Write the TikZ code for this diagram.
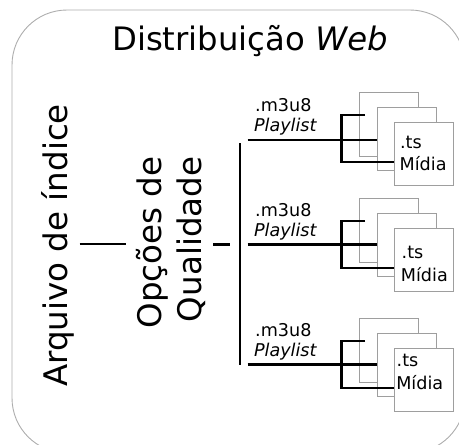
\documentclass[tikz,border=0pt]{standalone}
\usepackage{fontspec}
\setmainfont{DejaVu Sans}
\begin{document}
\begin{tikzpicture}[x=1pt,y={(0pt,-1pt)},
  frame/.style={draw=black!32,line width=0.9pt},
  conn/.style={draw=black,line width=2.3pt},
  mbox/.style={draw=black!38,fill=white,line width=1pt,minimum width=58.5pt,minimum height=63.5pt,inner sep=0pt,anchor=north west},
  bigtxt/.style={font=\fontsize{32.5}{39}\selectfont,inner sep=0pt},
  titletxt/.style={font=\fontsize{32.3}{39}\selectfont,inner sep=0pt},
  smalltxt/.style={font=\fontsize{17.6}{21}\selectfont,inner sep=0pt,anchor=base west}]
\useasboundingbox (0,0) rectangle (459,445);
\begin{scope}
\clip (0,0) rectangle (459,445);
\draw[frame,rounded corners=55pt] (12,10) rectangle (465,453);
\end{scope}
% title
\node[titletxt,anchor=base] (tit) at (250,50) {Distribuição \textit{Web}};
% rotated labels
\node[bigtxt,rotate=90,anchor=base] (arq) at (67,245.5) {Arquivo de índice};
\node[bigtxt,rotate=90,anchor=base east] (opc) at (161.5,156.5) {Opções de};
\node[bigtxt,rotate=90,anchor=base east] (qual) at (201,156.5) {Qualidade};
% connectors on the left
\coordinate (a1) at (79.5,244);
\coordinate (a2) at (125.5,244);
\draw[conn] (a1) -- (a2);
\coordinate (q1) at (213.3,244.5);
\coordinate (q2) at (230,244.5);
\draw[conn] (q1) -- (q2);
\coordinate (v1) at (240,143);
\coordinate (v2) at (240,364.5);
\draw[conn] (v1) -- (v2);
% groups: g / m3u8 y / playlist y / ts x / ts y / midia x / midia y / branch y
\foreach \i/\g/\my/\py/\tx/\ty/\mx/\mdy/\by in {
  1/92.3/111.7/131.7/399.9/148.3/399.4/170.7/140,
  2/198.3/216.7/236.7/401.5/258.3/400.7/281.7/244.5,
  3/318.3/336.7/356.7/396.5/366.7/396.1/389/364.5}{
  \node[mbox] (bA\i) at (359.3,\g) {};
  \node[mbox] (bB\i) at (377.3,\g+14.2) {};
  \node[mbox] (bC\i) at (394.2,\g+29.4) {};
  \node[smalltxt] (m\i) at (255,\my) {.m3u8};
  \node[smalltxt] (p\i) at (253.8,\py) {\textit{Playlist}};
  \node[smalltxt] (t\i) at (\tx,\ty) {.ts};
  \node[smalltxt] (d\i) at (\mx,\mdy) {Mídia};
  \coordinate (s\i) at (247.5,\by);
  \coordinate (k\i) at (341.5,\by);
  \coordinate (kt\i) at (341.5,\g+22.7);
  \coordinate (kb\i) at (341.5,\g+70);
  \coordinate (st\i) at (365,\g+22.7);
  \draw[conn] (s\i) -- (bB\i.west |- s\i);
  \draw[conn] (st\i) -- (kt\i) -- (kb\i) -- (bC\i.west |- kb\i);
}
\end{tikzpicture}
\end{document}
